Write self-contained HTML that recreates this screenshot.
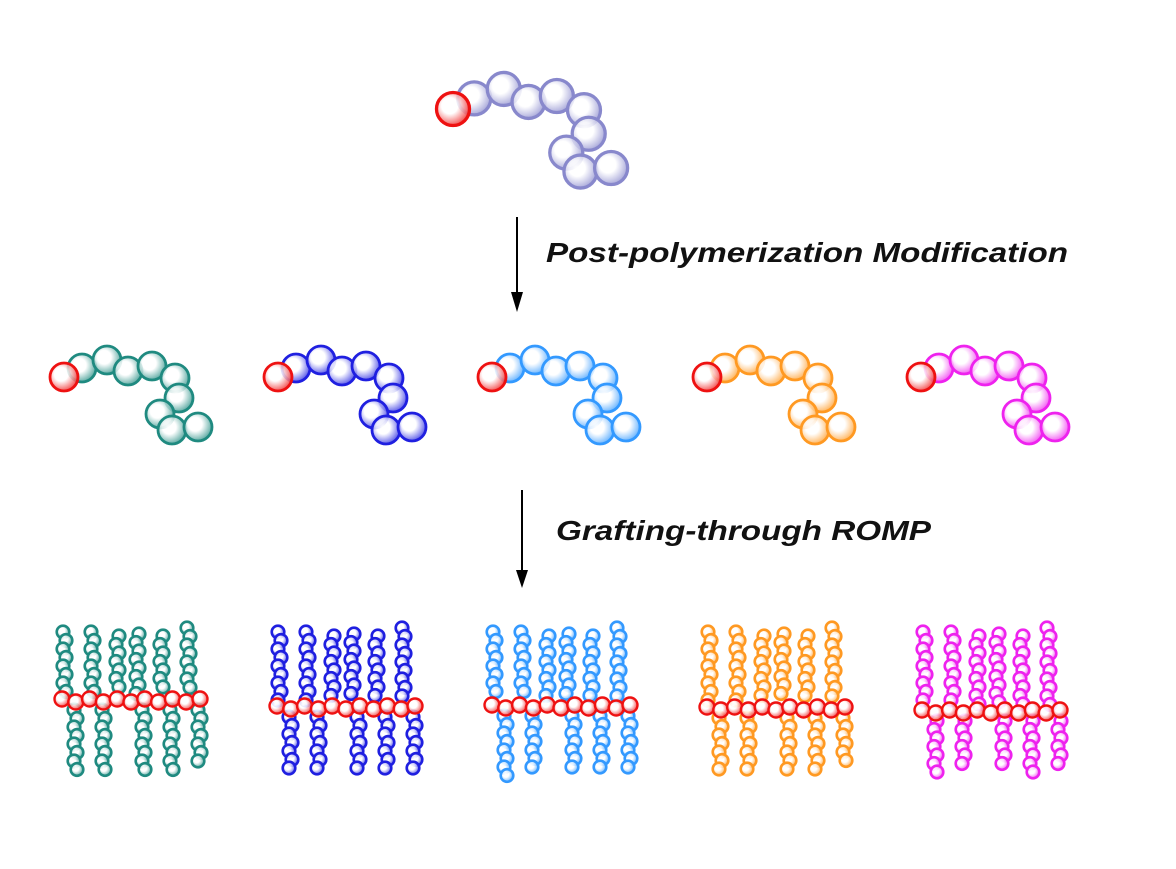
<!DOCTYPE html>
<html><head><meta charset="utf-8"><style>
body{margin:0;background:#fff;width:1176px;height:869px;overflow:hidden}
svg{position:absolute;left:0;top:0}
text{font-family:"Liberation Sans",sans-serif;font-weight:bold;font-style:italic;fill:#111}
</style></head><body>
<svg id="s" width="1176" height="869" xmlns="http://www.w3.org/2000/svg">
<defs></defs>
<line x1="517" y1="217" x2="517" y2="298" stroke="#000" stroke-width="2"/>
<polygon points="511,292 523,292 517,312" fill="#000"/>
<line x1="522" y1="490" x2="522" y2="575" stroke="#000" stroke-width="2"/>
<polygon points="516,570 528,570 522,588" fill="#000"/>
<text x="546" y="262" font-size="28" textLength="522" lengthAdjust="spacingAndGlyphs">Post-polymerization Modification</text>
<text x="556" y="540" font-size="28" textLength="375" lengthAdjust="spacingAndGlyphs">Grafting-through ROMP</text>
<g id="g"></g>
</svg>
<script>
const NS="http://www.w3.org/2000/svg";
const defs=document.querySelector("defs"),g=document.getElementById("g");
const cols={red:"#ee1111",pur:"#8888cc",teal:"#1f8a80",blue:"#1f1fe0",lb:"#3399ff",or:"#ff9922",mag:"#ee22ee"};
for(const k in cols){
 const rg=document.createElementNS(NS,"radialGradient");
 rg.setAttribute("id","g"+k);rg.setAttribute("cx","0.4");rg.setAttribute("cy","0.4");rg.setAttribute("r","0.7");
 rg.innerHTML=`<stop offset="0" stop-color="#fff"/><stop offset="0.35" stop-color="#fff" stop-opacity="0.85"/><stop offset="1" stop-color="${cols[k]}" stop-opacity="0.9"/>`;
 defs.appendChild(rg);
}
function c(x,y,r,k,sw){
 const e=document.createElementNS(NS,"circle");
 e.setAttribute("cx",x);e.setAttribute("cy",y);e.setAttribute("r",r);
 e.setAttribute("fill","url(#g"+k+")");e.setAttribute("stroke",cols[k]);e.setAttribute("stroke-width",sw);
 g.appendChild(e);
}
const off=[[18,-9],[43,-17],[64,-6],[88,-11],[111,1],[115,21],[96,37],[108,53],[134,50]];
function chain(x,y,s,r,k){
 off.forEach(o=>c(x+o[0]*s,y+o[1]*s,r,k,2.8*s));
 c(x,y,r,"red",2.8*s);
}
chain(453,109,1.18,16.5,"pur");
[[64,"teal"],[278,"blue"],[492,"lb"],[707,"or"],[921,"mag"]].forEach(([x,k])=>chain(x,377,1,14,k));
const up=[7,35,60,80,104,131],dn=[18,46,86,114,142];
const ups=[632,632,636,634,636,628],dnE=[776,770,770,775,768];
function brush(x0,yb,k){
 up.forEach((dx,i)=>{for(let y=ups[i];y<yb-6;y+=8.5){c(x0+dx+((Math.round(y/8.5))%2?3:0),y,6.3,k,2.6)}});
 dn.forEach((dx,i)=>{for(let y=yb+10;y<=dnE[i];y+=8.5){c(x0+dx+((Math.round(y/8.5))%2?3:0),y,6.3,k,2.6)}});
 for(let i=0;i<11;i++)c(x0+6+i*13.8,yb+(i%2?2:-1),7.5,"red",2.4);
}
[[56,700,"teal"],[271,707,"blue"],[486,706,"lb"],[701,708,"or"],[916,711,"mag"]].forEach(([x,y,k])=>brush(x,y,k));
</script>
</body></html>
